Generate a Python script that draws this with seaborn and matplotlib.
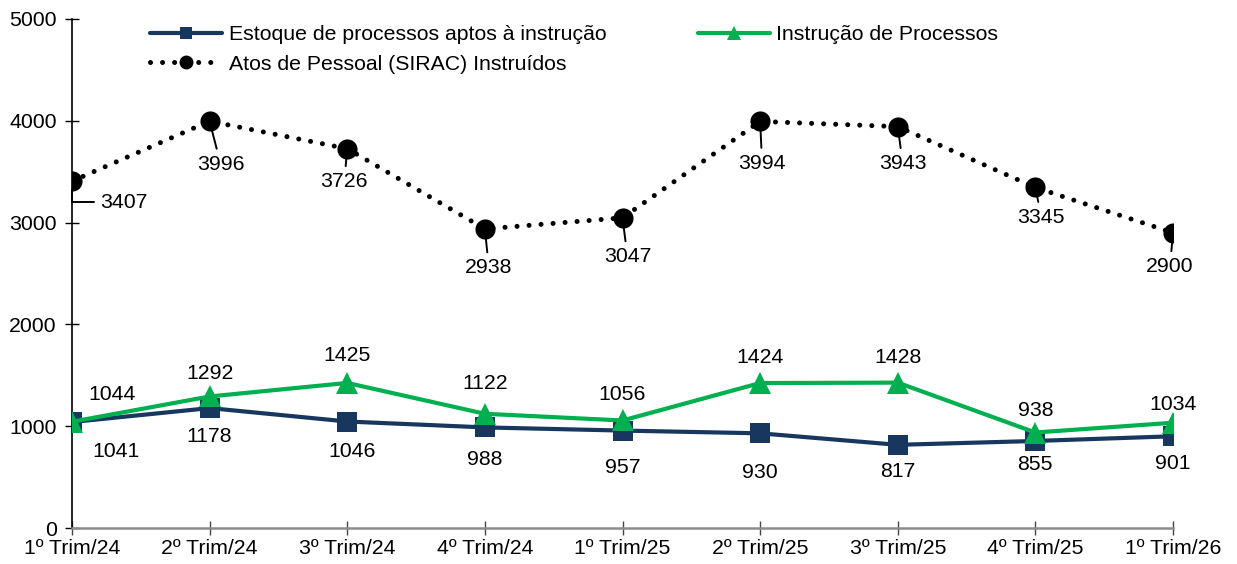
import numpy as np
import pandas as pd
import seaborn as sns
import matplotlib.pyplot as plt
from matplotlib.lines import Line2D

# dados
trimestres = ["1º Trim/24", "2º Trim/24", "3º Trim/24", "4º Trim/24", "1º Trim/25",
              "2º Trim/25", "3º Trim/25", "4º Trim/25", "1º Trim/26"]
estoque = [1041, 1178, 1046, 988, 957, 930, 817, 855, 901]
instrucao = [1044, 1292, 1425, 1122, 1056, 1424, 1428, 938, 1034]
atos = [3407, 3996, 3726, 2938, 3047, 3994, 3943, 3345, 2900]

nomes = ["Estoque de processos aptos à instrução", "Instrução de Processos",
         "Atos de Pessoal (SIRAC) Instruídos"]

# deslocamento dos rótulos (pixels)
off_estoque = [(44, -29), (0, -28), (5, -30), (0, -32), (0, -37), (0, -39), (0, -27), (0, -24), (0, -27)]
off_instr = [(40, 27), (0, 23), (0, 27), (0, 30), (0, 26), (0, 26), (0, 25), (0, 22), (0, 18)]
off_atos = [(52, -21), (11, -43), (-3, -33), (4, -39), (5, -39), (2, -42), (5, -37), (6, -30), (-3, -34)]

NAVY = "#17375E"
GREEN = "#00B050"

sns.set_theme(style="white")
plt.rcParams["font.family"] = ["Liberation Sans", "DejaVu Sans"]
plt.rcParams["text.color"] = "black"
plt.rcParams["xtick.color"] = "black"
plt.rcParams["ytick.color"] = "black"

x = np.arange(len(trimestres))
df = pd.DataFrame({"x": x, "estoque": estoque, "instrucao": instrucao, "atos": atos})

fig = plt.figure(figsize=(12.37, 5.64), dpi=100)
ax = fig.add_axes([72 / 1237, 1 - 528 / 564, (1173 - 72) / 1237, (528 - 19) / 564])

sns.lineplot(data=df, x="x", y="atos", ax=ax, color="black", lw=3.6,
             linestyle=(0, (0.01, 2.4)), dash_capstyle="round",
             marker="o", markersize=14.5, markeredgewidth=0, zorder=2)
sns.lineplot(data=df, x="x", y="estoque", ax=ax, color=NAVY, lw=3,
             marker="s", markersize=14, markeredgewidth=0, zorder=3)
sns.lineplot(data=df, x="x", y="instrucao", ax=ax, color=GREEN, lw=3,
             marker="^", markersize=15.5, markeredgewidth=0, zorder=4)

fs = 15.3
for i in range(len(x)):
    ax.annotate(str(estoque[i]), (x[i], estoque[i]), xytext=off_estoque[i],
                textcoords="offset pixels", ha="center", va="center", fontsize=fs)
    ax.annotate(str(instrucao[i]), (x[i], instrucao[i]), xytext=off_instr[i],
                textcoords="offset pixels", ha="center", va="center", fontsize=fs)
    cs = "angle,angleA=0,angleB=90,rad=0" if i == 0 else "arc3"
    ax.annotate(str(atos[i]), (x[i], atos[i]), xytext=off_atos[i],
                textcoords="offset pixels", ha="center", va="center", fontsize=fs,
                arrowprops=dict(arrowstyle="-", color="black", lw=1.4,
                                shrinkA=2, shrinkB=6, connectionstyle=cs))

ax.set_xlim(0, 8)
ax.set_ylim(0, 5000)
ax.set_yticks(range(0, 5001, 1000))
ax.set_xticks(x)
ax.set_xticklabels(trimestres)
ax.set_xlabel("")
ax.set_ylabel("")
for s in ["top", "right"]:
    ax.spines[s].set_visible(False)
ax.spines["left"].set_color("black")
ax.spines["left"].set_linewidth(1.2)
ax.spines["bottom"].set_color("#8c8c8c")
ax.spines["bottom"].set_linewidth(1.8)
ax.tick_params(axis="y", direction="inout", length=10, width=1, color="black",
               labelsize=fs, pad=6, left=True)
ax.tick_params(axis="x", direction="inout", length=10, width=1, color="#444444",
               labelsize=fs, pad=3, bottom=True)

handles = [
    Line2D([], [], color=NAVY, lw=3, marker="s", markersize=9, markeredgewidth=0),
    Line2D([], [], color="black", lw=3.6, linestyle=(0, (0.01, 2.4)),
           dash_capstyle="round", marker="o", markersize=10, markeredgewidth=0),
    Line2D([], [], color=GREEN, lw=3, marker="^", markersize=10, markeredgewidth=0),
]
fig.legend(handles, [nomes[0], nomes[2], nomes[1]], ncol=2, frameon=False,
           loc="upper left", bbox_to_anchor=(150 / 1237, 1 - 25 / 564),
           borderpad=0, borderaxespad=0, fontsize=fs, handlelength=3.4,
           handletextpad=0.3, columnspacing=4.3, labelspacing=0.5)

fig.savefig("out.png", dpi=100)
